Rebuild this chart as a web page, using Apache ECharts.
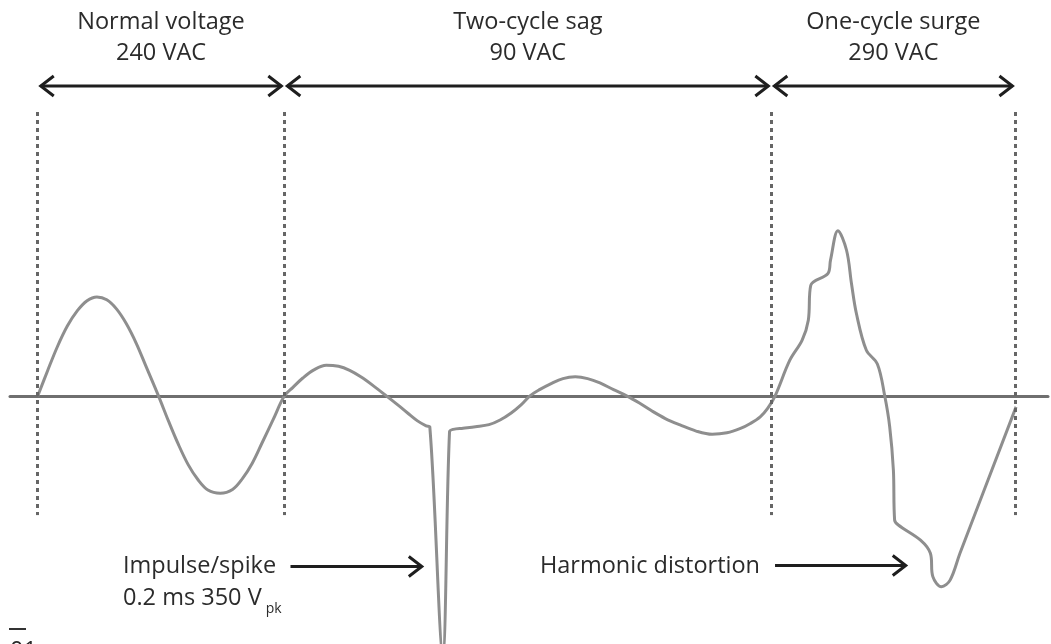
<!DOCTYPE html>
<html>
<head>
<meta charset="utf-8">
<title>Voltage disturbances</title>
<script src="https://cdn.jsdelivr.net/npm/echarts@6/dist/echarts.min.js"></script>
<style>
  html, body { margin: 0; background: #fff; }
  #main { width: 1051px; height: 644px; }
</style>
</head>
<body>
<div id="main"></div>
<script>
// waveform: time in ms, voltage in V
const normalTime = [0, 0.8, 1.6, 2.4, 3.2, 4.0, 4.8, 5.6, 6.4, 7.2, 8.0, 8.8, 9.8,
  10.6, 11.4, 12.2, 13.0, 13.8, 14.8, 15.8, 16.6, 17.4, 18.2, 19.1, 20];
const normalVolt = [0, 87, 170, 240, 292, 327, 340, 330, 298, 247, 180, 100, 0,
  -85, -165, -235, -287, -322, -333, -320, -283, -230, -160, -80, 0];

const sagTime = [20.7, 21.5, 22.4, 23.4, 24.4, 25.3, 26.2, 27.2, 28.3, 29.2, 30.0, 30.8, 31.5, 31.8,
  32.85, 33.4, 33.7, 34.5, 35.5, 36.6, 37.5, 38.4, 39.2, 39.9,
  40.7, 41.6, 42.6, 43.6, 44.6, 45.6, 46.7, 47.8, 48.8, 49.7, 50.9, 52.1, 53.4, 54.7,
  55.9, 57.0, 57.8, 58.6, 59.2, 59.8];
const sagVolt = [30, 62, 90, 106, 102, 88, 66, 36, 0, -30, -58, -85, -102, -106,
  -880, -122, -114, -110, -105, -98, -82, -58, -30, 0,
  22, 42, 60, 66, 60, 45, 22, 0, -24, -48, -77, -99, -120, -131,
  -126, -111, -94, -71, -42, 0];

const surgeTime = [61.0, 62.0, 62.5, 62.7, 64.1, 64.3, 64.9, 65.6, 66.0, 66.4, 67.2, 68.1,
  68.7, 69.1, 69.4, 69.5, 69.8, 71.6, 72.4, 72.6, 73.3, 74.0, 74.8, 79.35];
const surgeVolt = [123, 192, 260, 380, 421, 466, 567, 500, 386, 283, 158, 110,
  0, -105, -254, -425, -442, -494, -539, -619, -654, -631, -539, -37];

// section boundaries (ms) and their labels
const boundaries = [0, 20, 59.5, 79.3];
const spanTitles = ['Normal voltage', 'Two-cycle sag', 'One-cycle surge'];
const spanValues = ['240 VAC', '90 VAC', '290 VAC'];

// pointer arrows below the wave (ms)
const impulseArrow = [20.5, 31.15];
const harmonicArrow = [59.8, 70.4];

const waveData = [];
[[normalTime, normalVolt], [sagTime, sagVolt], [surgeTime, surgeVolt]].forEach(([ts, vs]) => {
  ts.forEach((t, i) => waveData.push([t, vs[i]]));
});

const FONT = '"Open Sans", "Noto Sans", sans-serif';
const FS = 23.5;
const TEXT = '#2b2b2b';
const INK = '#1e1e1e';

var chartDom = document.getElementById('main');
var myChart = echarts.init(chartDom, null, { renderer: 'canvas' });

var option = {
  animation: false,
  backgroundColor: '#fff',
  grid: { left: 10, right: 3, top: 0, bottom: 0 },
  xAxis: {
    type: 'value',
    min: -2.25,
    max: 81.94,
    axisLine: { show: true, onZero: true, lineStyle: { color: '#6f6f6f', width: 3 } },
    axisTick: { show: false },
    axisLabel: { show: false },
    splitLine: { show: false }
  },
  yAxis: {
    type: 'value',
    min: -850,
    max: 1358,
    axisLine: { show: false },
    axisTick: { show: false },
    axisLabel: { show: false },
    splitLine: { show: false }
  },
  series: [
    {
      type: 'line',
      data: waveData,
      showSymbol: false,
      smooth: 0.35,
      lineStyle: { color: '#8e8e8e', width: 3 },
      z: 3,
      silent: true,
      markLine: {
        silent: true,
        symbol: ['none', 'none'],
        label: { show: false },
        lineStyle: { color: '#666', width: 3, type: [4, 4] },
        data: boundaries.map(b => [{ coord: [b, 974] }, { coord: [b, -408] }])
      }
    }
  ]
};
myChart.setOption(option);

// arrows and labels, placed from the axis scale
function px(t) {
  return myChart.convertToPixel({ gridIndex: 0 }, [t, 0])[0];
}

function arrow(x1, x2, y, both) {
  const els = [{
    type: 'polyline',
    shape: { points: [[x1, y], [x2, y]] },
    style: { stroke: INK, lineWidth: 3, fill: null }
  }, {
    type: 'polyline',
    shape: { points: [[x2 - 13, y - 10], [x2, y], [x2 - 13, y + 10]] },
    style: { stroke: INK, lineWidth: 3, fill: null }
  }];
  if (both) {
    els.push({
      type: 'polyline',
      shape: { points: [[x1 + 13, y - 10], [x1, y], [x1 + 13, y + 10]] },
      style: { stroke: INK, lineWidth: 3, fill: null }
    });
  }
  return els;
}

function label(text, x, y, align, size) {
  return {
    type: 'text',
    style: {
      text: text, x: x, y: y,
      font: (size || FS) + 'px ' + FONT,
      fill: TEXT,
      align: align, verticalAlign: 'middle',
      textAlign: align, textVerticalAlign: 'middle'
    }
  };
}

const ctx = document.createElement('canvas').getContext('2d');
ctx.font = FS + 'px ' + FONT;

let elements = [];
for (let i = 0; i < 3; i++) {
  const a = px(boundaries[i]);
  const b = px(boundaries[i + 1]);
  elements = elements.concat(arrow(a + 3, b - 3, 86, true));
  elements.push(label(spanTitles[i], (a + b) / 2, 22, 'center'));
  elements.push(label(spanValues[i], (a + b) / 2, 53, 'center'));
}

const ia = px(impulseArrow[0]), ib = px(impulseArrow[1]);
elements = elements.concat(arrow(ia, ib, 566.5, false));
elements.push(label('Impulse/spike', 123, 566, 'left'));
const line2 = '0.2 ms 350 V';
elements.push(label(line2, 123, 598, 'left'));
elements.push(label('pk', 123 + ctx.measureText(line2).width + 4, 609, 'left', 14));

const ha = px(harmonicArrow[0]), hb = px(harmonicArrow[1]);
elements = elements.concat(arrow(ha, hb, 565.5, false));
elements.push(label('Harmonic distortion', ha - 15, 566, 'right'));

// figure marker, bottom left
elements.push({
  type: 'line',
  shape: { x1: 9, y1: 629, x2: 26, y2: 629 },
  style: { stroke: '#333', lineWidth: 2 }
});
elements.push({
  type: 'text',
  style: { text: '01', x: 10, y: 639, font: FS + 'px ' + FONT, fill: TEXT, align: 'left', verticalAlign: 'top' }
});

myChart.setOption({ graphic: { elements: elements } });
</script>
</body>
</html>
